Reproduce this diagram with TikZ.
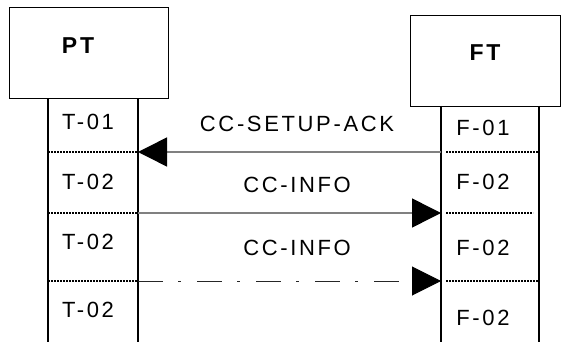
\documentclass[tikz,border=0pt]{standalone}
\usepackage{fontspec}
\setmainfont{Liberation Sans}[LetterSpace=12]
\usetikzlibrary{arrows.meta}
\begin{document}
\begin{tikzpicture}[x=1pt,y=-1pt,
  entity/.style={draw=black,line width=1pt,inner sep=0pt},
  ename/.style={inner sep=0pt,font=\fontsize{23}{26}\selectfont\bfseries},
  life/.style={draw=black,line width=1.8pt},
  sep/.style={draw=black,line width=1.4pt,dash pattern=on 2.2pt off 0.8pt},
  lbl/.style={inner sep=0pt,font=\fontsize{22}{25}\selectfont},
  msg/.style={draw=gray,line width=1.5pt,-{Triangle[length=29pt,width=29pt,color=black]}},
  dashmsg/.style={msg,draw=black!85,line width=1pt,dash pattern=on 25pt off 15pt on 3pt off 16pt}]
\useasboundingbox (0,0) rectangle (561,347);
% boxes
\node[entity,minimum width=159pt,minimum height=91pt] (PT) at (88.5,53.5) {};
\node[ename] (PTl) at (78,46) {PT};
\node[entity,minimum width=150pt,minimum height=91pt,anchor=north west] (FT) at (410,15) {};
\node[ename] (FTl) at (485,53) {FT};
% lifelines
\coordinate (pl) at (48,99);
\coordinate (pr) at (138,99);
\coordinate (fl) at (441,106);
\coordinate (fr) at (539,106);
\coordinate (plb) at (48,342);
\coordinate (prb) at (138,342);
\coordinate (flb) at (441,342);
\coordinate (frb) at (539,342);
\draw[life] (pl) -- (plb);
\draw[life] (pr) -- (prb);
\draw[life] (fl) -- (flb);
\draw[life] (fr) -- (frb);
% message points
\coordinate (p1) at (138,152);
\coordinate (p2) at (138,213);
\coordinate (p3) at (138,281);
\coordinate (f1) at (441,152);
\coordinate (f2) at (441,213);
\coordinate (f3) at (441,281);
% separators
\coordinate (pa1) at (48,152);
\coordinate (pa2) at (48,213);
\coordinate (pa3) at (48,281);
\coordinate (fb1) at (538,152);
\coordinate (fb2) at (533,213);
\coordinate (fb3) at (538,281);
\draw[sep] (pa1) -- (p1);
\draw[sep] (pa2) -- (p2);
\draw[sep] (pa3) -- (p3);
\draw[sep] ([xshift=5pt]f1) -- (fb1);
\draw[sep] ([xshift=5pt]f2) -- (fb2);
\draw[sep] ([xshift=5pt]f3) -- (fb3);
% messages
\draw[msg] (f1) -- (p1);
\draw[msg] (p2) -- (f2);
\draw[dashmsg] (p3) -- (f3);
% labels
\node[lbl] (m1) at (297,124) {CC-SETUP-ACK};
\node[lbl] (m2) at (297,185) {CC-INFO};
\node[lbl] (m3) at (297,248) {CC-INFO};
\node[lbl] (t1) at (88,122) {T-01};
\node[lbl] (t2) at (88,182) {T-02};
\node[lbl] (t3) at (88,242) {T-02};
\node[lbl] (t4) at (88,310) {T-02};
\node[lbl] (g1) at (483,128) {F-01};
\node[lbl] (g2) at (483,182) {F-02};
\node[lbl] (g3) at (483,248) {F-02};
\node[lbl] (g4) at (483,318) {F-02};
\end{tikzpicture}
\end{document}
